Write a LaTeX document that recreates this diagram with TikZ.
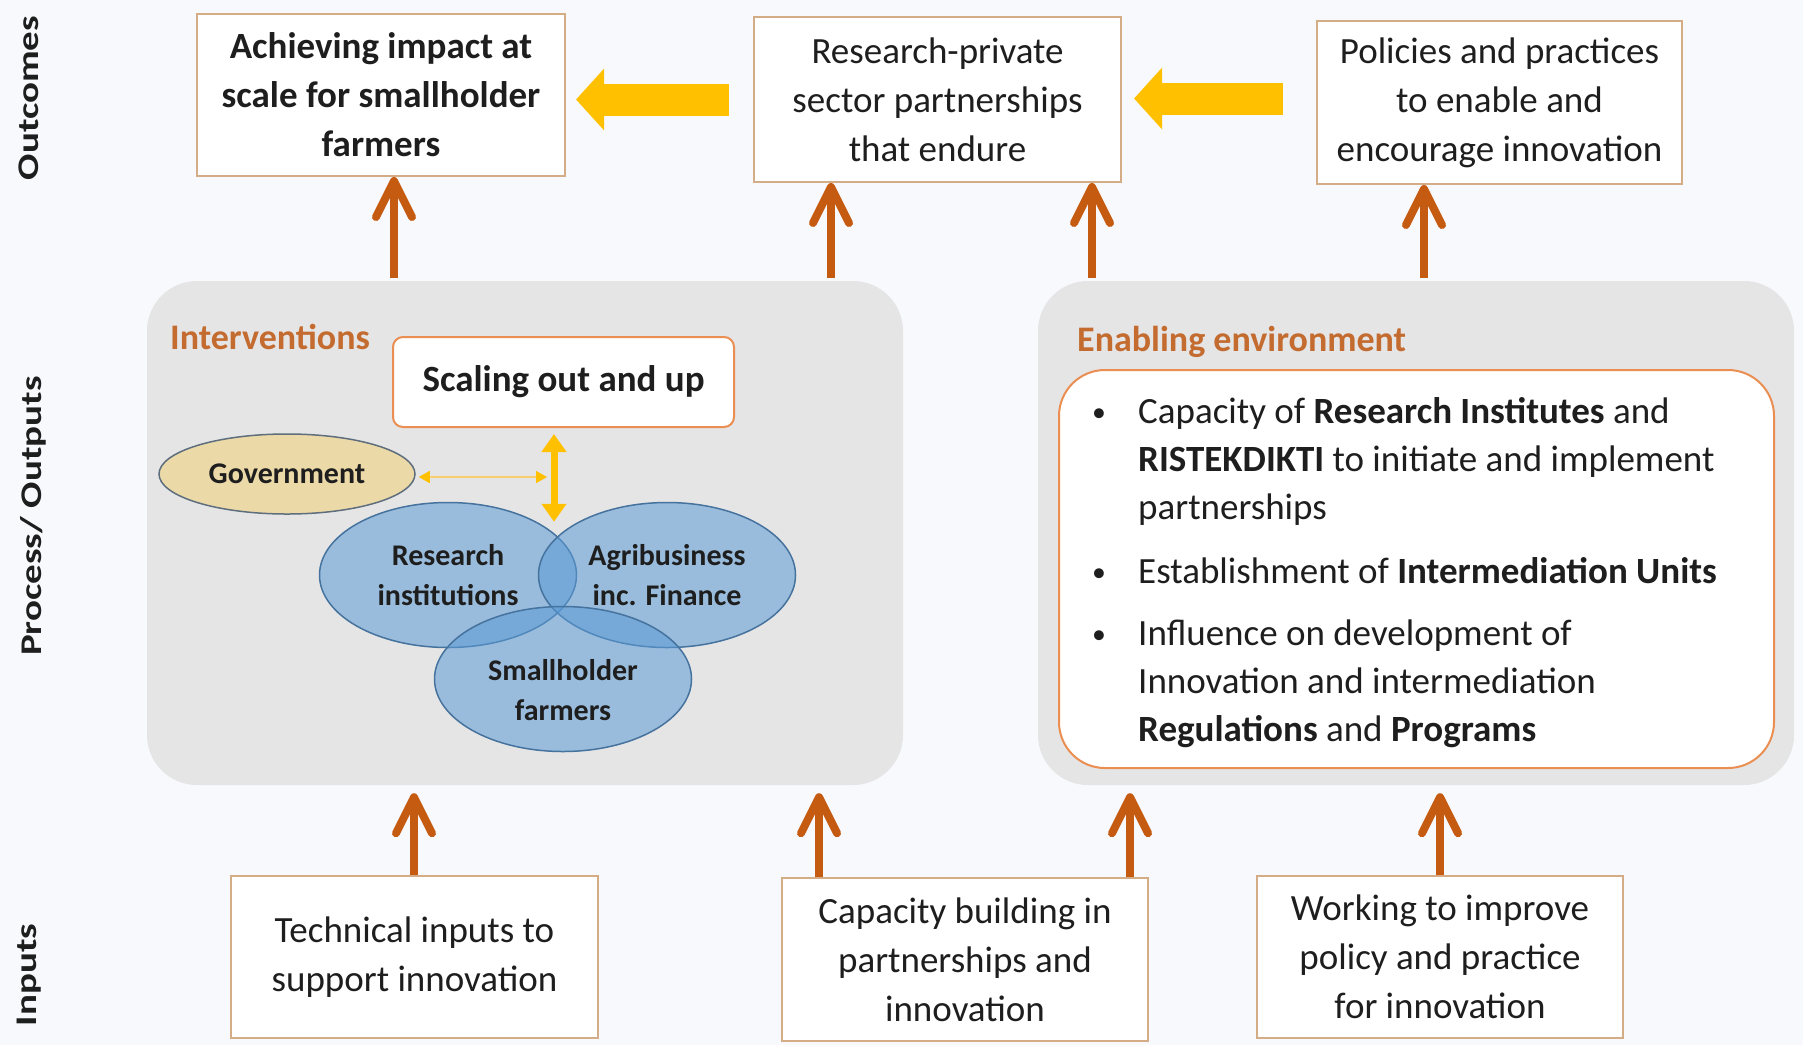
\documentclass[tikz,border=0pt]{standalone}
\usepackage{fontspec}
\setmainfont{Carlito}
\usetikzlibrary{arrows.meta,shapes.geometric,calc}

\definecolor{bgcol}{RGB}{248,249,252}
\definecolor{inkcol}{RGB}{30,30,30}
\definecolor{boxline}{RGB}{212,172,134}
\definecolor{panelcol}{RGB}{229,229,230}
\definecolor{uparrcol}{RGB}{197,90,17}
\definecolor{goldcol}{RGB}{255,192,0}
\definecolor{thingold}{RGB}{248,206,110}
\definecolor{headcol}{RGB}{196,108,48}
\definecolor{frameorange}{RGB}{234,142,82}
\definecolor{bluefill}{RGB}{91,155,213}
\definecolor{blueline}{RGB}{70,115,158}
\definecolor{govfill}{RGB}{236,217,168}
\definecolor{govline}{RGB}{95,110,125}

\newcommand{\smallbullet}{\raisebox{2pt}{\scalebox{0.75}{\textbullet}}}

\begin{document}
\begin{tikzpicture}[x=1pt,y=-1pt,
  textfont/.style={font=\fontsize{37}{49}\selectfont, text=inkcol},
  flowbox/.style={draw=boxline, line width=2pt, fill=white, align=center,
    textfont, inner sep=0pt},
  panel/.style={fill=panelcol, rounded corners=50pt, minimum width=756pt,
    minimum height=504pt, inner sep=0pt},
  sidelabel/.style={font=\fontsize{30}{36}\selectfont\bfseries, text=inkcol,
    rotate=90, inner sep=0pt},
  uparr/.style={draw=uparrcol, line width=8pt,
    -{Straight Barb[length=36pt,width=36pt,round]}},
  blockarr/.style={draw=goldcol, line width=32pt,
    -{Triangle[length=28pt,width=60pt]}},
  sectionhead/.style={font=\fontsize{36}{44}\selectfont\bfseries, text=headcol,
    anchor=base west, inner sep=0pt},
  actor/.style={ellipse, draw=blueline, line width=1.5pt,
    fill=bluefill, fill opacity=0.55, draw opacity=1,
    minimum width=257pt, minimum height=145pt, inner sep=0pt},
  actortext/.style={font=\fontsize{30}{40}\selectfont\bfseries, text=inkcol,
    align=center, inner sep=0pt}
]

% page background and extent
\fill[bgcol] (0,0) rectangle (1803,1045);
\useasboundingbox (0,0) rectangle (1803,1045);

% row labels
\node[sidelabel] (lblout) at (29,98) {\scalebox{1.3}[1]{Outcomes}};
\node[sidelabel] (lblproc) at (33,516) {\scalebox{1.3}[1]{Process/ Outputs}};
\node[sidelabel] (lblin) at (29,975) {\scalebox{1.3}[1]{Inputs}};

% outcomes row
\node[flowbox, minimum width=368pt, minimum height=162pt] (out1) at (381,95)
  {\bfseries Achieving impact at\\\bfseries scale for smallholder\\\bfseries farmers};
\node[flowbox, minimum width=367pt, minimum height=165pt] (out2) at (937.5,99.5)
  {Research-private\\sector partnerships\\that endure};
\node[flowbox, minimum width=365pt, minimum height=163pt] (out3) at (1499.5,102.5)
  {Policies and practices\\to enable and\\encourage innovation};

\draw[blockarr] ($(out2.west)+(-24,0)$) -- ($(out1.east |- out2.west)+(10,0)$);
\draw[blockarr] ($(out3.west)+(-33,-4)$) -- ($(out2.east |- out3.west)+(12,-4)$);

% inputs row
\node[flowbox, minimum width=367pt, minimum height=162pt] (in1) at (414.5,957)
  {Technical inputs to\\support innovation};
\node[flowbox, minimum width=366pt, minimum height=163pt] (in2) at (965,959.5)
  {Capacity building in\\partnerships and\\innovation};
\node[flowbox, minimum width=366pt, minimum height=162pt] (in3) at (1440,957)
  {Working to improve\\policy and practice\\for innovation};

% process panels
\node[panel] (interv) at (525,533) {};
\node[panel] (enable) at (1416,533) {};

% interventions panel content
\node[sectionhead] (intervhead) at (170,349) {Interventions};
\node[draw=frameorange, line width=2pt, fill=white, rounded corners=10pt,
  minimum width=341pt, minimum height=90pt, inner sep=0pt,
  font=\fontsize{37}{44}\selectfont\bfseries, text=inkcol] (scale) at (563.5,382)
  {Scaling out and up};

\node[ellipse, draw=govline, line width=1.5pt, fill=govfill,
  minimum width=256pt, minimum height=80pt, inner sep=0pt,
  font=\fontsize{30}{36}\selectfont\bfseries, text=inkcol] (gov) at (287,474)
  {Government};

\node[actor] (research) at (448,575) {};
\node[actor] (agri) at (667,575) {};
\node[actor] (small) at (563,679) {};
\node[actortext] (researchtxt) at (448,575) {Research\\institutions};
\node[actortext] (agritxt) at (667,575) {Agribusiness\\inc. Finance};
\node[actortext] (smalltxt) at (563,690) {Smallholder\\farmers};

\coordinate (hub) at (554,477);
\draw[goldcol, line width=7pt, {Triangle[length=18pt,width=24pt]}-{Triangle[length=18pt,width=24pt]}]
  ([yshift=-6pt]scale.south -| hub) -- ([yshift=-20pt]research.north -| hub);
\draw[thingold, line width=1.5pt, {Triangle[length=11pt,width=12pt,color=goldcol]}-{Triangle[length=11pt,width=12pt,color=goldcol]}]
  ([xshift=3pt]gov.east |- hub) -- ([xshift=-7pt]hub);

% enabling environment panel content
\node[sectionhead] (enablehead) at (1077,351) {Enabling environment};
\node[draw=frameorange, line width=2pt, fill=white, rounded corners=46pt,
  minimum width=715pt, minimum height=398pt, inner sep=0pt] (envbox) at (1416.5,569) {};
\node[anchor=north west, inner sep=0pt, text=inkcol,
  font=\fontsize{37}{48}\selectfont] (envlist) at (1092,390) {%
  \begin{tabular}{@{}p{46pt}@{}l@{}}
  \smallbullet & Capacity of \textbf{Research Institutes} and\\
   & \textbf{RISTEKDIKTI} to initiate and implement\\
   & partnerships\\[16pt]
  \smallbullet & Establishment of \textbf{Intermediation Units}\\[14pt]
  \smallbullet & Influence on development of\\
   & Innovation and intermediation\\
   & \textbf{Regulations} and \textbf{Programs}
  \end{tabular}};

% arrows from the process panels up to the outcomes
\coordinate (ta1) at (394,0);
\coordinate (ta2) at (831,0);
\coordinate (ta3) at (1092,0);
\coordinate (ta4) at (1424,0);
\draw[uparr] ([yshift=3pt]interv.north -| ta1) -- (out1.south -| ta1);
\draw[uparr] ([yshift=3pt]interv.north -| ta2) -- (out2.south -| ta2);
\draw[uparr] ([yshift=3pt]enable.north -| ta3) -- (out2.south -| ta3);
\draw[uparr] ([yshift=3pt]enable.north -| ta4) -- (out3.south -| ta4);

% arrows from the inputs up to the process panels
\coordinate (ba1) at (414,0);
\coordinate (ba2) at (819,0);
\coordinate (ba3) at (1130,0);
\coordinate (ba4) at (1440,0);
\draw[uparr] (in1.north -| ba1) -- ([yshift=-8pt]interv.south -| ba1);
\draw[uparr] (in2.north -| ba2) -- ([yshift=-8pt]interv.south -| ba2);
\draw[uparr] (in2.north -| ba3) -- ([yshift=-8pt]enable.south -| ba3);
\draw[uparr] (in3.north -| ba4) -- ([yshift=-8pt]enable.south -| ba4);

\end{tikzpicture}
\end{document}
